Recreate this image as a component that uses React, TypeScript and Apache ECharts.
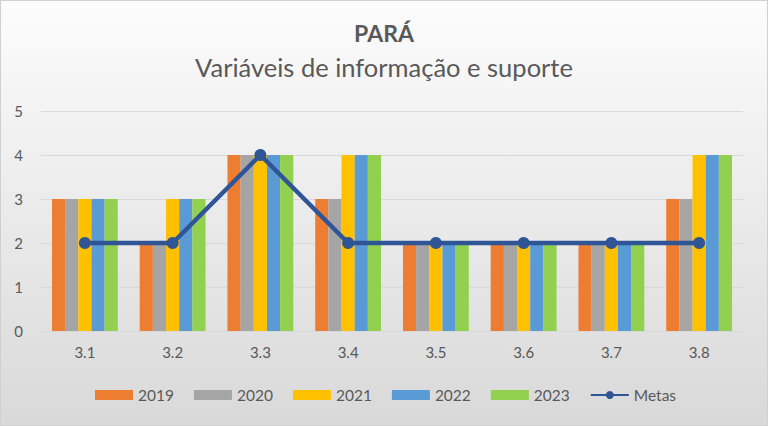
import React, { useEffect, useRef } from "react";
import * as echarts from "echarts";

const categories = ["3.1", "3.2", "3.3", "3.4", "3.5", "3.6", "3.7", "3.8"];
const s2019 = [3, 2, 4, 3, 2, 2, 2, 3];
const s2020 = [3, 2, 4, 3, 2, 2, 2, 3];
const s2021 = [3, 3, 4, 4, 2, 2, 2, 4];
const s2022 = [3, 3, 4, 4, 2, 2, 2, 4];
const s2023 = [3, 3, 4, 4, 2, 2, 2, 4];
const metas = [2, 2, 4, 2, 2, 2, 2, 2];
const barNames = ["2019", "2020", "2021", "2022", "2023"];
const barData = [s2019, s2020, s2021, s2022, s2023];
const barColors = ["#ED7D31", "#A5A5A5", "#FFC000", "#5B9BD5", "#92D050"];

export default function App() {
  const ref = useRef<HTMLDivElement>(null);
  useEffect(() => {
    if (!ref.current) return;
    const chart = echarts.init(ref.current, undefined, { renderer: "svg" });
    const font = "Lato, 'Open Sans', sans-serif";
    chart.setOption({
      animation: false,
      backgroundColor: new echarts.graphic.LinearGradient(0, 0, 0, 1, [
        { offset: 0, color: "#fcfcfc" },
        { offset: 1, color: "#d9d9d9" },
      ]),
      title: [
        {
          text: "PARÁ",
          left: "center",
          top: 15,
          textStyle: { fontFamily: font, fontSize: 23, fontWeight: "bold", color: "#595959" },
        },
        {
          text: "Variáveis de informação e suporte",
          left: "center",
          top: 48,
          textStyle: { fontFamily: font, fontSize: 25.5, fontWeight: "normal", color: "#595959" },
        },
      ],
      legend: {
        top: 381,
        left: 89,
        itemWidth: 38,
        itemHeight: 10,
        itemGap: 20,
        textStyle: { fontFamily: font, fontSize: 15.5, color: "#595959" },
        data: [...barNames.map((n) => ({ name: n, icon: "rect" })), { name: "Metas" }],
      },
      grid: { left: 40, right: 24, top: 110, bottom: 94 },
      xAxis: {
        type: "category",
        data: categories,
        axisLine: { lineStyle: { color: "#d9d9d9" } },
        axisTick: { show: false },
        axisLabel: { fontFamily: font, fontSize: 15, color: "#595959", margin: 13 },
      },
      yAxis: {
        type: "value",
        min: 0,
        max: 5,
        interval: 1,
        axisLabel: { fontFamily: font, fontSize: 15, color: "#595959", margin: 18 },
        splitLine: { lineStyle: { color: "#d9d9d9" } },
      },
      series: [
        ...barNames.map((n, i) => ({
          name: n,
          type: "bar",
          data: barData[i],
          barGap: "0%",
          barCategoryGap: "25%",
          itemStyle: { color: barColors[i] },
        })),
        {
          name: "Metas",
          type: "line",
          data: metas,
          symbol: "circle",
          symbolSize: 12,
          lineStyle: { color: "#2F5597", width: 4.5 },
          itemStyle: { color: "#2F5597" },
        },
      ],
    });
    return () => chart.dispose();
  }, []);
  return (
    <div
      ref={ref}
      style={{
        position: "fixed",
        left: 0,
        top: 0,
        width: 768,
        height: 426,
        boxSizing: "border-box",
        border: "1px solid #d0d0d0",
      }}
    />
  );
}
